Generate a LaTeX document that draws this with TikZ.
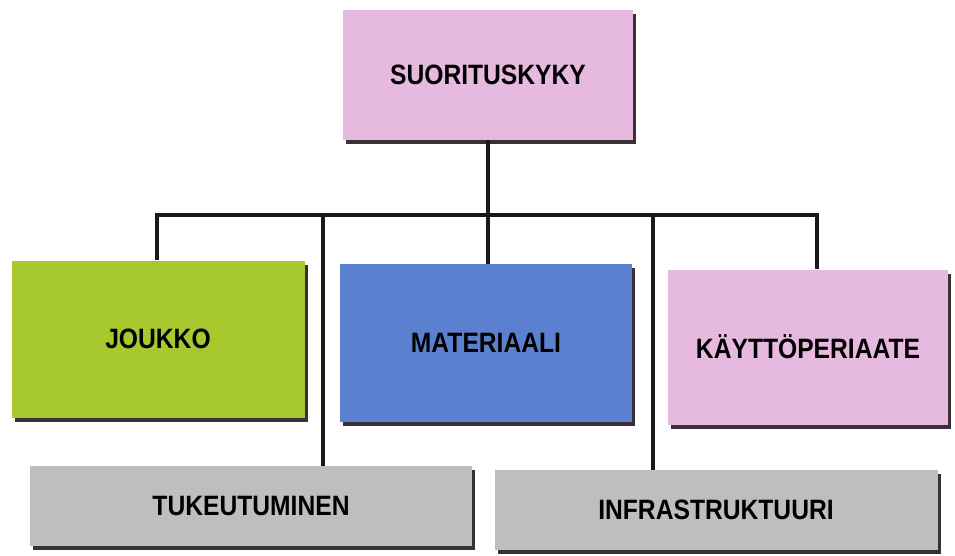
\documentclass[tikz,border=0pt]{standalone}
\usepackage{fontspec}
\setmainfont[FakeStretch=0.88]{Liberation Sans}
\usepackage{xcolor}
\definecolor{cPink}{HTML}{E6B9DF}
\definecolor{cGreen}{HTML}{A8C92E}
\definecolor{cBlue}{HTML}{5C80D0}
\definecolor{cGray}{HTML}{BEBEBE}
\definecolor{cShadow}{HTML}{3A3038}
\usepackage{tikz}
\usetikzlibrary{positioning,shadows}
\tikzset{
  node-box/.style={rectangle,inner sep=0pt,align=center,
    font=\fontsize{28}{30}\selectfont\bfseries,
    drop shadow={shadow xshift=3pt,shadow yshift=-4pt,fill=cShadow,opacity=1}},
  node-pink/.style={fill=cPink},
  node-green/.style={fill=cGreen},
  node-blue/.style={fill=cBlue},
  node-gray/.style={fill=cGray},
  tree-line/.style={line width=4pt,draw=black!90},
}

\begin{document}
\begin{tikzpicture}[x=1pt,y=-1pt]
  \useasboundingbox (0,0) rectangle (955,556);
  % ylin taso
  \node[node-box,node-pink,minimum width=290pt,minimum height=130pt] (suor) at (488,75) {SUORITUSKYKY};
  % haarat
  \coordinate (b1) at (157,215);
  \coordinate (b2) at (323,215);
  \coordinate (b3) at (488,215);
  \coordinate (b4) at (653,215);
  \coordinate (b5) at (817,215);
  \node[node-box,node-green,minimum width=293pt,minimum height=157pt] (joukko) at (158,339) {JOUKKO};
  \node[node-box,node-blue,minimum width=292pt,minimum height=158pt] (materiaali) at (486,343) {MATERIAALI};
  \node[node-box,node-pink,minimum width=280pt,minimum height=155pt] (kaytto) at (808,347) {KÄYTTÖPERIAATE};
  \node[node-box,node-gray,minimum width=442pt,minimum height=80pt] (tuke) at (251,506) {TUKEUTUMINEN};
  \node[node-box,node-gray,minimum width=443pt,minimum height=80pt] (infra) at (716,510) {INFRASTRUKTUURI};
  \draw[tree-line] (suor.south) -- (b3);
  \draw[tree-line] (b1 |- joukko.north) -- (b1) -- (b5) -- (b5 |- kaytto.north);
  \draw[tree-line] (b3) -- (b3 |- materiaali.north);
  \draw[tree-line] (b2) -- (b2 |- tuke.north);
  \draw[tree-line] (b4) -- (b4 |- infra.north);
\end{tikzpicture}
\end{document}
